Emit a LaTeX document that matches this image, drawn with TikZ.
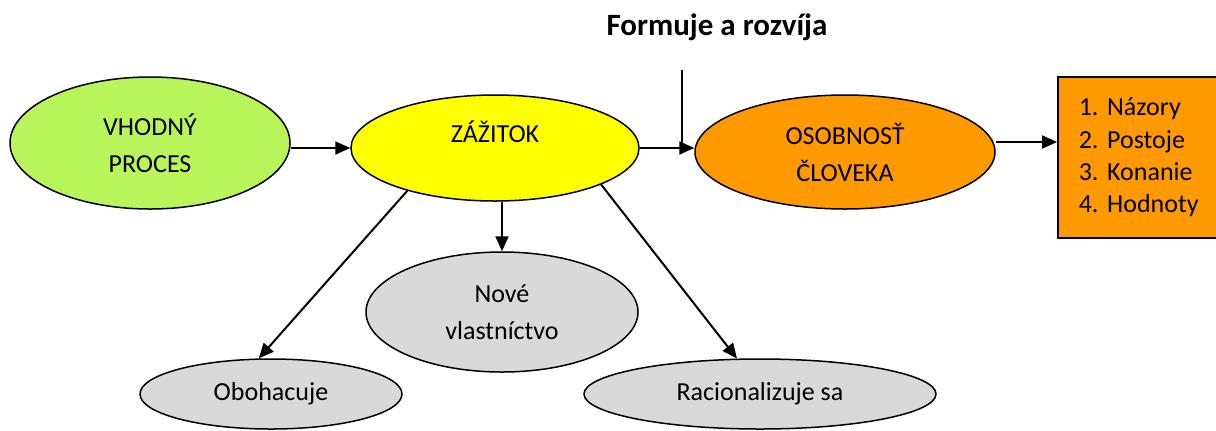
\documentclass[tikz,border=0pt]{standalone}
\usepackage{fontspec}
\setmainfont{Carlito}
\usetikzlibrary{arrows.meta,shapes.geometric}
\frenchspacing

\definecolor{procgreen}{RGB}{185,245,90}
\definecolor{zazyellow}{RGB}{255,255,0}
\definecolor{osorange}{RGB}{255,153,0}
\definecolor{outgray}{RGB}{217,217,217}

\tikzset{
    bubble/.style={draw, line width=0.75pt, ellipse, inner sep=0pt, align=center,
        font=\fontsize{13}{18.5}\selectfont},
    arr/.style={line width=1pt, -{Triangle[length=7.5pt, width=6.5pt]}}
}

\begin{document}
\begin{tikzpicture}[x=0.5pt, y=-0.5pt]

    % Picture frame (pixel units, y downwards)
    \useasboundingbox (0,0) rectangle (1216,430);

    % Title above the junction
    \node[font=\fontsize{15.5}{18}\selectfont\bfseries] (formuje) at (717,27) {Formuje a rozvíja};

    % Top row of ellipses
    \node[bubble, fill=procgreen, minimum width=140pt, minimum height=66pt] (proces) at (150,143) {VHODNÝ\\PROCES};
    \node[bubble, fill=zazyellow, minimum width=144pt, minimum height=53pt,
          text height=9pt, text depth=15pt] (zazitok) at (495,148) {ZÁŽITOK};
    \node[bubble, fill=osorange, minimum width=150pt, minimum height=57pt] (osobnost) at (845,152) {OSOBNOSŤ\\ČLOVEKA};

    % List box on the right (cut by the page edge)
    \node[draw, line width=0.75pt, fill=osorange, rectangle, anchor=west, align=left,
          text width=80pt, inner xsep=10.5pt, minimum height=80.5pt,
          font=\fontsize{13}{16.2}\selectfont] (hodnoty) at (1057,157.5)
          {1. Názory\\2. Postoje\\3. Konanie\\4. Hodnoty};

    % Bottom ellipses
    \node[bubble, fill=outgray, minimum width=136pt, minimum height=60pt] (nove) at (502,312) {Nové\\vlastníctvo};
    \node[bubble, fill=outgray, minimum width=131pt, minimum height=35pt] (obohacuje) at (271,394) {Obohacuje};
    \node[bubble, fill=outgray, minimum width=176pt, minimum height=35pt] (racio) at (760,394) {Racionalizuje sa};

    % Vertical line from the title down to the arrow
    \coordinate (formtop) at (682,70);

    % Arrows along the top row
    \draw[arr] (proces.east |- zazitok.west) -- (zazitok.west);
    \draw[arr] (zazitok.east) -- (zazitok.east -| osobnost.west);
    \draw[line width=1pt] (formtop) -- (formtop |- zazitok.east);
    \draw[arr] ([yshift=5pt]osobnost.east) -- ([yshift=5pt]osobnost.east -| hodnoty.west);

    % Arrows down from ZAZITOK
    \draw[arr] (zazitok.206) -- (obohacuje.109);
    \draw[arr] (nove.north |- zazitok.south) -- (nove.north);
    \draw[arr] (zazitok.341) -- (racio.123);

\end{tikzpicture}
\end{document}
